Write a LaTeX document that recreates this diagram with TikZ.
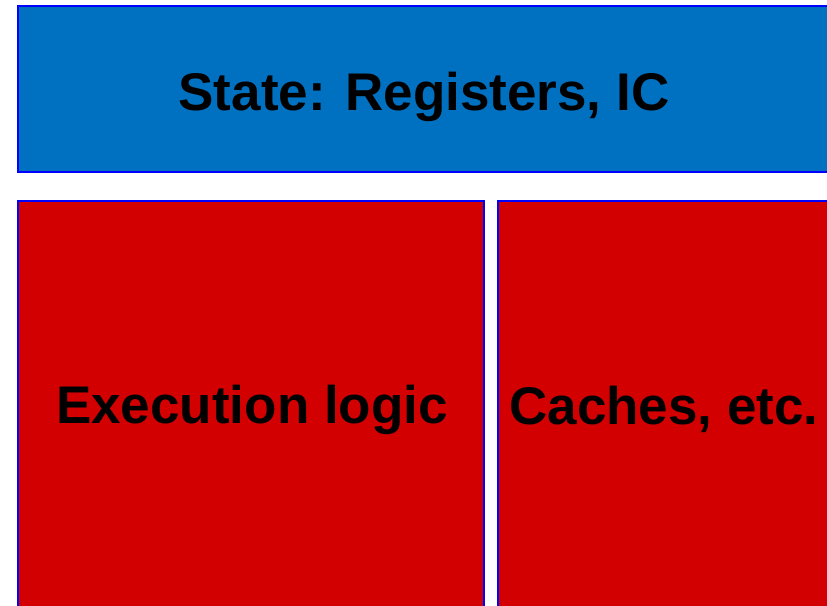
\documentclass[tikz,border=0pt]{standalone}
\usepackage{fontspec}
\setmainfont{Liberation Sans}
\definecolor{stateblue}{RGB}{0,112,192}
\definecolor{logicred}{RGB}{210,0,0}
\definecolor{edgeblue}{RGB}{0,0,255}
\tikzset{
  block/.style={draw=edgeblue, line width=2pt, inner sep=0pt},
  label/.style={font=\fontsize{53}{60}\selectfont\bfseries, text=black, anchor=base, inner sep=0pt}
}
\begin{document}
\begin{tikzpicture}[x=1pt,y=-1pt]
  \useasboundingbox (0,0) rectangle (827,605);
  \clip (0,0) rectangle (827,605);
  % state block across the top
  \fill[stateblue] (18,6) rectangle (832,172);
  \draw[block] (18,6) rectangle (832,172);
  \node[label] (state) at (424,110) {State: Registers, IC};
  % execution logic block
  \fill[logicred] (18,201) rectangle (484,612);
  \draw[block] (18,201) rectangle (484,612);
  \node[label] (exec) at (252,423) {Execution logic};
  % caches block
  \fill[logicred] (498,201) rectangle (832,612);
  \draw[block] (498,201) rectangle (832,612);
  \node[label] (cache) at (664,424) {Caches, etc.};
\end{tikzpicture}
\end{document}
